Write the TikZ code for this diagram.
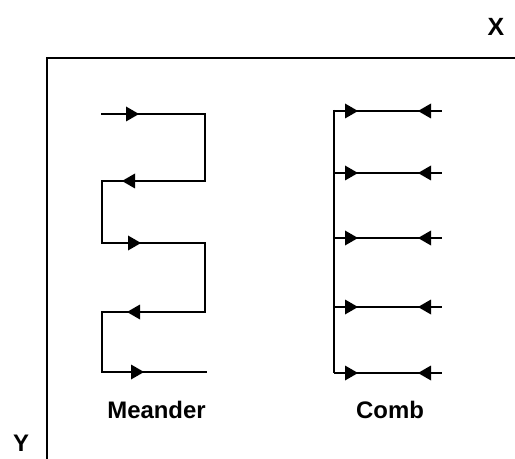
\documentclass[tikz,border=0pt]{standalone}
\usepackage{fontspec}
\setmainfont{Liberation Sans}
\begin{document}
\begin{tikzpicture}[x=1bp,y=-1bp,
  wire/.style={line width=2.6bp,line cap=butt,line join=miter},
  axis/.style={line width=2.6bp},
  lbl/.style={font=\fontsize{24}{28}\selectfont\bfseries,inner sep=0pt},
  tipr/.pic={\fill (1,0) -- (-12,-7.5) -- (-12,7.5) -- cycle;},
  tipl/.pic={\fill (-1,0) -- (12,-7.5) -- (12,7.5) -- cycle;}]
\useasboundingbox (0,0) rectangle (515,459);
% axes
\coordinate (o) at (47,58);
\coordinate (xe) at (515,58);
\coordinate (ye) at (47,459);
\draw[axis] (ye) -- (o) -- (xe);
\node[lbl,font=\fontsize{25}{28}\selectfont\bfseries] (X) at (496,27) {X};
\node[lbl] (Y) at (21,443) {Y};
% meander
\coordinate (m0) at (101,114);
\coordinate (m1) at (205,114);
\coordinate (m2) at (205,181);
\coordinate (m3) at (102,181);
\coordinate (m4) at (102,243);
\coordinate (m5) at (205,243);
\coordinate (m6) at (205,312);
\coordinate (m7) at (102,312);
\coordinate (m8) at (102,372);
\coordinate (m9) at (207,372);
\draw[wire] (m0) -- (m1) -- (m2) -- (m3) -- (m4) -- (m5) -- (m6) -- (m7) -- (m8) -- (m9);
\pic at (138,114) {tipr};
\pic at (123,181) {tipl};
\pic at (140,243) {tipr};
\pic at (128,312) {tipl};
\pic at (143,372) {tipr};
\node[lbl,anchor=base] (mlab) at (156.5,418) {Meander};
% comb
\coordinate (ct) at (334,110);
\coordinate (cb) at (334,373);
\draw[wire] (ct) -- (cb);
\foreach \yy in {111,173,238,307,373}{
  \coordinate (cl) at (334,\yy);
  \coordinate (cr) at (442,\yy);
  \draw[wire] (cl) -- (cr);
  \pic at (357,\yy) {tipr};
  \pic at (419,\yy) {tipl};
}
\node[lbl,anchor=base] (clab) at (390,418) {Comb};
\end{tikzpicture}
\end{document}
